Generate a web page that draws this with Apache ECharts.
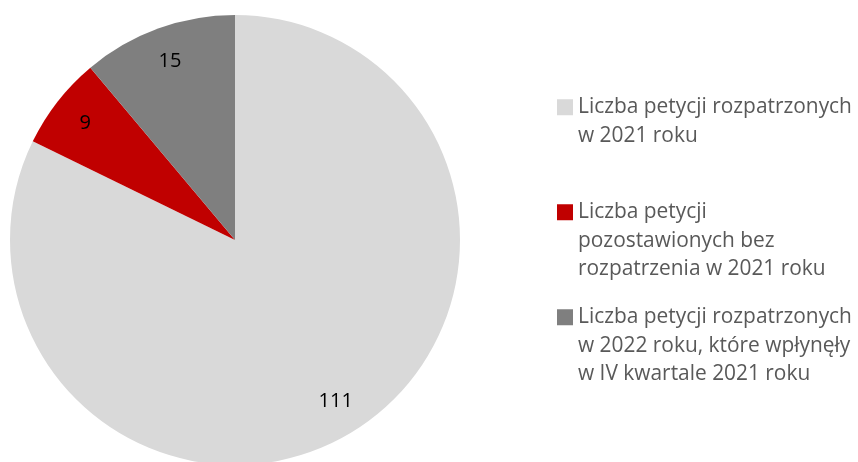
<!DOCTYPE html>
<html>
<head>
<meta charset="utf-8">
<script src="https://cdn.jsdelivr.net/npm/echarts@6/dist/echarts.min.js"></script>
<style>
  html, body { margin: 0; padding: 0; background: #fff; }
  #chart { width: 858px; height: 462px; }
</style>
</head>
<body>
<div id="chart"></div>
<script>
// dane wykresu
const categories = [
  'Liczba petycji rozpatrzonych\nw 2021 roku',
  'Liczba petycji\npozostawionych bez\nrozpatrzenia w 2021 roku',
  'Liczba petycji rozpatrzonych\nw 2022 roku, które wpłynęły\nw IV kwartale 2021 roku'
];
const values = [111, 9, 15];
const colors = ['#D9D9D9', '#C00000', '#7F7F7F'];

const FONT = 'Open Sans';
const LINE_H = 28.5;

const pieData = categories.map((name, i) => ({
  name: name,
  value: values[i],
  itemStyle: { color: colors[i] }
}));

// ikona legendy: kwadrat przy pierwszej linii, reszta wysokości pusta
function legendIcon(lines) {
  const h = lines * LINE_H;
  const top = LINE_H / 2 - 8;
  return 'path://M0,0L0,0M16,' + h + 'L16,' + h +
    'M0,' + top + 'h16v16h-16z';
}

const legendTops = [93, 198, 303];
const legends = categories.map((name, i) => {
  const lines = name.split('\n').length;
  return {
    left: 557,
    top: legendTops[i],
    padding: 0,
    orient: 'vertical',
    data: [name],
    icon: legendIcon(lines),
    itemWidth: 16,
    itemHeight: lines * LINE_H,
    selectedMode: false,
    textStyle: {
      fontFamily: FONT,
      fontSize: 20.9,
      color: '#595959',
      lineHeight: LINE_H,
      padding: 0
    }
  };
});

const chart = echarts.init(document.getElementById('chart'));
chart.setOption({
  animation: false,
  legend: legends,
  series: [
    {
      type: 'pie',
      center: [235, 240],
      radius: [0, 225],
      startAngle: 90,
      clockwise: true,
      silent: true,
      label: { show: false },
      labelLine: { show: false },
      data: pieData
    },
    {
      // przezroczysty pierścień tylko do etykiet wartości
      type: 'pie',
      center: [235, 240],
      radius: [150, 224],
      startAngle: 90,
      clockwise: true,
      silent: true,
      itemStyle: { color: 'rgba(0,0,0,0)' },
      label: {
        show: true,
        position: 'inside',
        formatter: '{c}',
        fontFamily: FONT,
        fontSize: 20,
        color: '#000'
      },
      labelLine: { show: false },
      data: categories.map((name, i) => ({ name: name, value: values[i] }))
    }
  ]
});
</script>
</body>
</html>
